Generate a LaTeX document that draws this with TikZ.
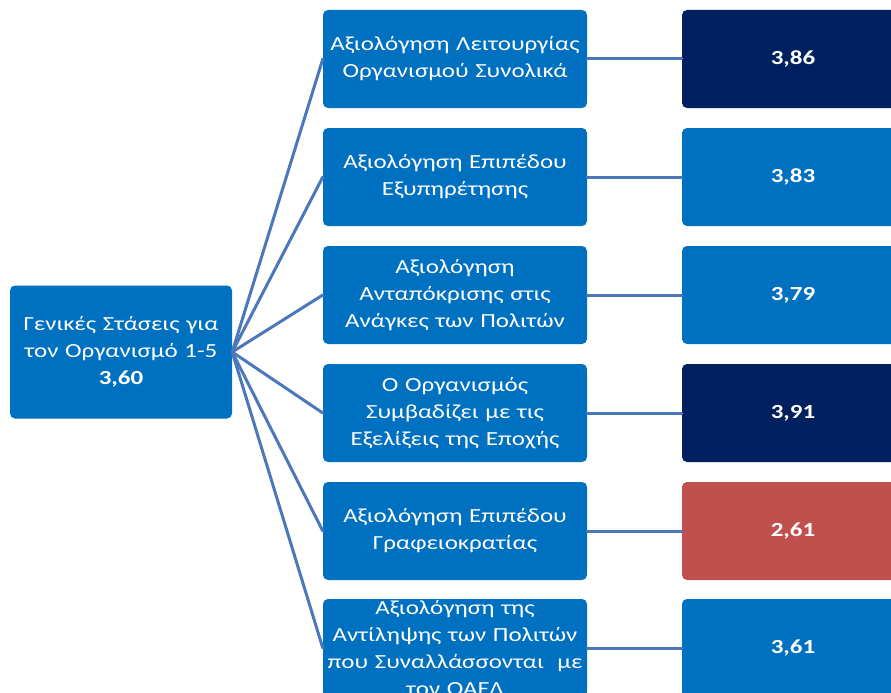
\documentclass[tikz,border=0pt]{standalone}
\usepackage{fontspec}
\setmainfont{Carlito}
\newfontfamily\boxfont[FakeStretch=1.25]{Carlito}
\definecolor{midblue}{HTML}{0070C0}
\definecolor{navy}{HTML}{002060}
\definecolor{redbox}{HTML}{C0504D}
\definecolor{linkblue}{HTML}{4A78BA}
\begin{document}
\begin{tikzpicture}[x=1pt,y=-1pt,
  box/.style={draw=none,rounded corners=5pt,text=white,align=center,inner sep=0pt,
    font=\boxfont\fontsize{20}{27}\selectfont},
  midbox/.style={box,fill=midblue,minimum width=264pt,minimum height=98pt,text width=262pt},
  valbox/.style={box,minimum width=222pt,minimum height=98pt,font=\boxfont\fontsize{20}{27}\selectfont\bfseries},
  link/.style={draw=linkblue,line width=3pt,line cap=round}]
\useasboundingbox (0,0) rectangle (891,693);
\clip (0,0) rectangle (891,693);
\node[box,fill=midblue,minimum width=222pt,minimum height=133pt,text width=220pt] (root) at (121,352)
  {Γενικές Στάσεις για\\τον Οργανισμό 1-5\\\textbf{3,60}};
\node[midbox] (m1) at (455,59) {Αξιολόγηση Λειτουργίας\\Οργανισμού Συνολικά};
\node[midbox] (m2) at (455,177) {Αξιολόγηση Επιπέδου\\Εξυπηρέτησης};
\node[midbox] (m3) at (455,295) {Αξιολόγηση\\Ανταπόκρισης στις\\Ανάγκες των Πολιτών};
\node[midbox] (m4) at (455,413) {Ο Οργανισμός\\Συμβαδίζει με τις\\Εξελίξεις της Εποχής};
\node[midbox] (m5) at (455,531) {Αξιολόγηση Επιπέδου\\Γραφειοκρατίας};
\node[midbox] (m6) at (455,648) {Αξιολόγηση της\\Αντίληψης των Πολιτών\\που Συναλλάσσονται\ \ με\\τον ΟΑΕΔ};
\node[valbox,fill=navy] (v1) at (793,59) {3,86};
\node[valbox,fill=midblue] (v2) at (793,177) {3,83};
\node[valbox,fill=midblue] (v3) at (793,295) {3,79};
\node[valbox,fill=navy] (v4) at (793,413) {3,91};
\node[valbox,fill=redbox] (v5) at (793,531) {2,61};
\node[valbox,fill=midblue] (v6) at (793,648) {3,61};
\foreach \i in {1,...,6}{
  \draw[link] (root.east) -- (m\i.west);
  \draw[link] (m\i.east) -- (v\i.west);
}
\end{tikzpicture}
\end{document}
